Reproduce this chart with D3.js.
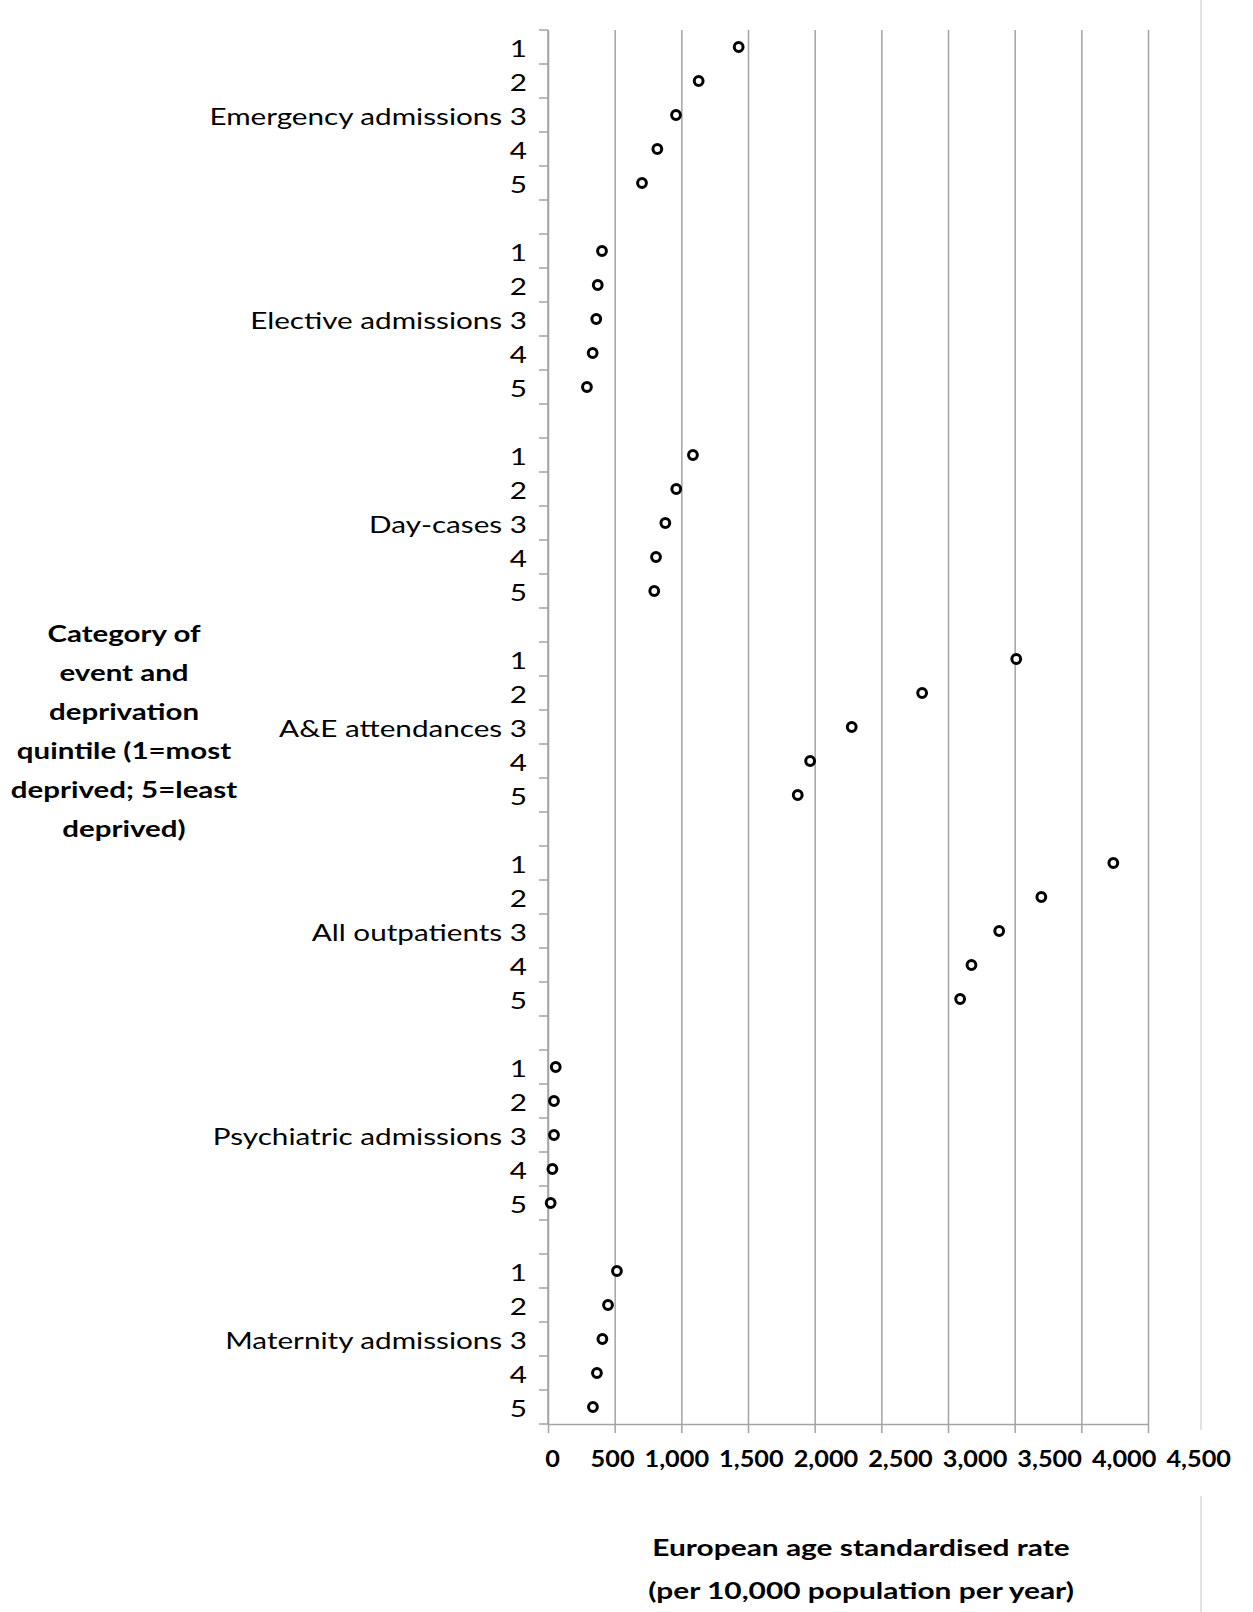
<!DOCTYPE html>
<html>
<head>
<meta charset="utf-8">
<script src="https://cdn.jsdelivr.net/npm/d3@7"></script>
<style>
  html, body { margin: 0; padding: 0; background: #fff; }
  svg { display: block; }
  text { font-family: Lato, "Liberation Sans", sans-serif; fill: #000; }
</style>
</head>
<body>
<svg id="chart" width="1253" height="1612"></svg>
<script>
// Event categories, top to bottom, and deprivation quintiles within each
const categories = [
  "Emergency admissions",
  "Elective admissions",
  "Day-cases",
  "A&E attendances",
  "All outpatients",
  "Psychiatric admissions",
  "Maternity admissions"
];
const quintiles = ["1", "2", "3", "4", "5"];

// European age standardised rate per 10,000 population per year, quintile 1..5
const emergencyAdmissions   = [1430, 1130, 960, 820, 705];
const electiveAdmissions    = [405, 373, 362, 335, 292];
const dayCases              = [1087, 962, 880, 810, 797];
const aeAttendances         = [3512, 2806, 2278, 1966, 1873];
const allOutpatients        = [4240, 3700, 3384, 3176, 3091];
const psychiatricAdmissions = [58, 45, 45, 33, 20];
const maternityAdmissions   = [517, 450, 408, 367, 337];

const xTickValues = [0, 500, 1000, 1500, 2000, 2500, 3000, 3500, 4000, 4500];
const xTickLabels = ["0", "500", "1,000", "1,500", "2,000", "2,500", "3,000", "3,500", "4,000", "4,500"];

const yTitleLines = ["Category of", "event and", "deprivation", "quintile (1=most", "deprived; 5=least", "deprived)"];
const xTitleLines = ["European age standardised rate", "(per 10,000 population per year)"];

const seriesByCategory = [
  emergencyAdmissions, electiveAdmissions, dayCases, aeAttendances,
  allOutpatients, psychiatricAdmissions, maternityAdmissions
];

// ---- layout ----
const W = 1253, H = 1612;
const plot = { left: 548, right: 1148, top: 30, bottom: 1424 };
const gridColor = "#a3a3a3";

// Row list: five quintile rows per category, with an empty spacer row between categories
const rows = [];
categories.forEach((cat, ci) => {
  quintiles.forEach((q, qi) => {
    rows.push({ key: `${ci}-${qi}`, cat, q, qi, value: seriesByCategory[ci][qi] });
  });
  if (ci < categories.length - 1) rows.push({ key: `gap-${ci}`, spacer: true });
});
const dataRows = rows.filter(r => !r.spacer);

const x = d3.scaleLinear().domain([0, 4500]).range([plot.left, plot.right]);
const y = d3.scaleBand().domain(rows.map(r => r.key)).range([plot.top, plot.bottom]).padding(0);
const rowMid = k => y(k) + y.bandwidth() / 2;

const svg = d3.select("#chart");
svg.append("rect").attr("width", W).attr("height", H).attr("fill", "#fff");

// right-hand border of the chart area, interrupted where the tick labels sit
const borderX = 1201;
[[0, 1430], [1496, H]].forEach(([a, b]) => {
  svg.append("line")
    .attr("x1", borderX).attr("x2", borderX).attr("y1", a).attr("y2", b)
    .attr("stroke", "#c4c4c4").attr("stroke-width", 1);
});

// vertical gridlines
const grid = svg.append("g")
  .attr("transform", `translate(0,${plot.bottom})`)
  .call(d3.axisBottom(x).tickValues(xTickValues).tickSize(-(plot.bottom - plot.top)).tickFormat(""));
grid.select(".domain").remove();
grid.selectAll("line").attr("stroke", gridColor).attr("stroke-width", 1.5);

// x axis line with outward ticks
const xAxis = svg.append("g")
  .attr("transform", `translate(0,${plot.bottom})`)
  .call(d3.axisBottom(x).tickValues(xTickValues).tickSize(9).tickSizeOuter(0).tickFormat(""));
xAxis.select(".domain").attr("stroke", gridColor).attr("stroke-width", 1.5);
xAxis.selectAll("line").attr("stroke", gridColor).attr("stroke-width", 1.5);

// y axis line and ticks at each row boundary
const yAxis = svg.append("g");
yAxis.append("line")
  .attr("x1", x(0)).attr("x2", x(0))
  .attr("y1", plot.top).attr("y2", plot.bottom)
  .attr("stroke", gridColor).attr("stroke-width", 1.5);
const boundaries = rows.map(r => y(r.key)).concat([y.range()[1]]);
yAxis.selectAll("line.tick")
  .data(boundaries)
  .join("line")
  .attr("class", "tick")
  .attr("x1", x(0) - 9).attr("x2", x(0))
  .attr("y1", d => d).attr("y2", d => d)
  .attr("stroke", gridColor).attr("stroke-width", 1.5);

// category / quintile labels
const catStretch = 1.29;
svg.append("g").selectAll("text")
  .data(dataRows)
  .join("text")
  .attr("transform", d => `translate(${x(0) - 21},${rowMid(d.key) + 10}) scale(${catStretch},1)`)
  .attr("text-anchor", "end")
  .attr("font-size", 23)
  .text(d => d.qi === 2 ? `${d.cat} ${d.q}` : d.q);

// data points
svg.append("g").selectAll("circle")
  .data(dataRows)
  .join("circle")
  .attr("cx", d => x(d.value))
  .attr("cy", d => rowMid(d.key))
  .attr("r", 4.4)
  .attr("fill", "#fff")
  .attr("stroke", "#000")
  .attr("stroke-width", 3);

// x tick labels, right-aligned on an evenly spaced label row
const labelX = d3.scaleLinear().domain([0, 4500]).range([560, 1231]);
const tickStretch = 1.1;
svg.append("g").selectAll("text")
  .data(xTickValues)
  .join("text")
  .attr("transform", (d) => `translate(${labelX(d)},1467) scale(${tickStretch},1)`)
  .attr("text-anchor", "end")
  .attr("font-size", 23)
  .attr("font-weight", "bold")
  .text((d, i) => xTickLabels[i]);

// x axis title
const titleStretch = 1.3;
svg.append("g").selectAll("text")
  .data(xTitleLines)
  .join("text")
  .attr("transform", (d, i) => `translate(861,${1556 + i * 43}) scale(${titleStretch},1)`)
  .attr("text-anchor", "middle")
  .attr("font-size", 23)
  .attr("font-weight", "bold")
  .text(d => d);

// y axis title
svg.append("g").selectAll("text")
  .data(yTitleLines)
  .join("text")
  .attr("transform", (d, i) => `translate(124,${642 + i * 39}) scale(1.31,1)`)
  .attr("text-anchor", "middle")
  .attr("font-size", 22.5)
  .attr("font-weight", "bold")
  .text(d => d);
</script>
</body>
</html>
